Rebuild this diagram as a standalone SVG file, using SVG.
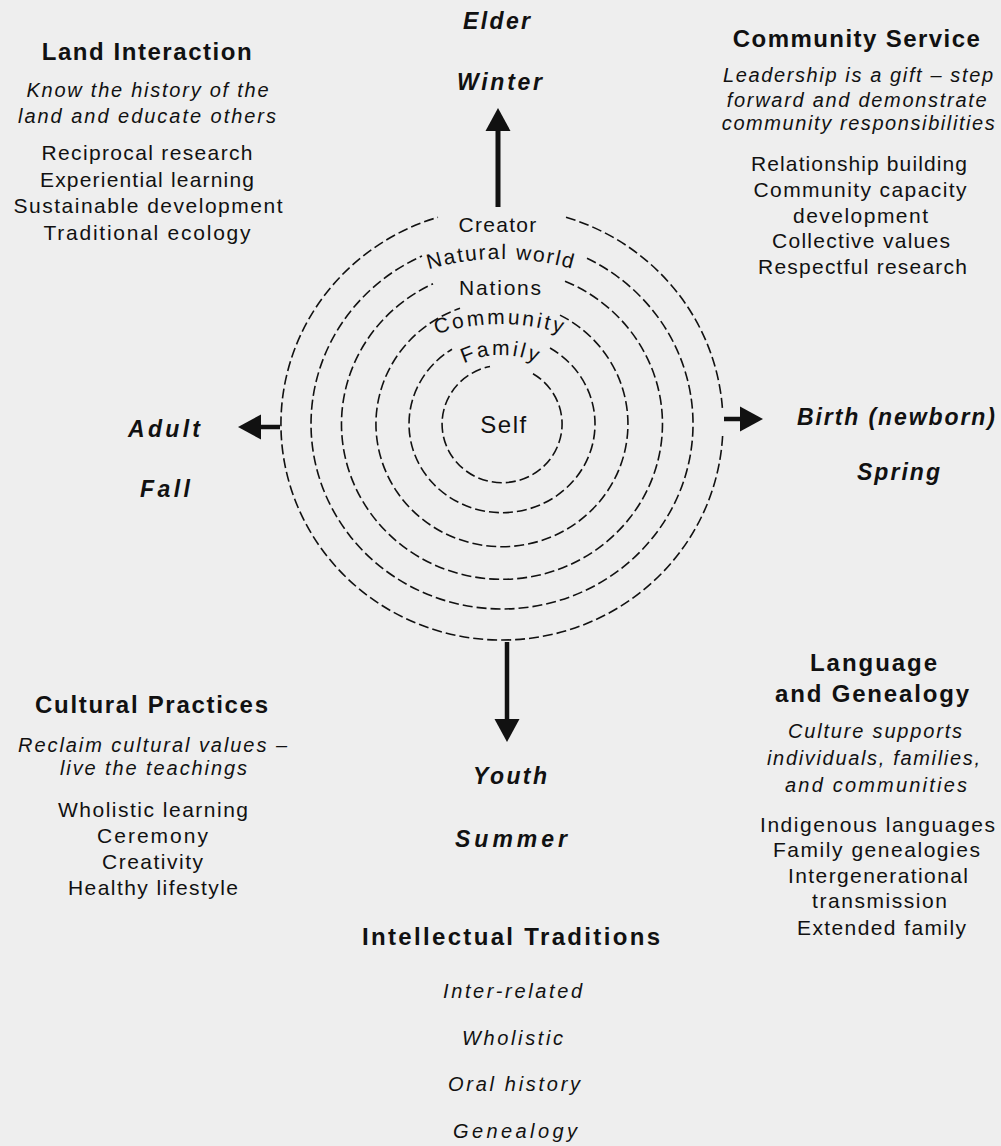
<svg xmlns="http://www.w3.org/2000/svg" width="1001" height="1146" viewBox="0 0 1001 1146">
<style>
text{fill:#111;font-family:"Liberation Sans",Arial,sans-serif;text-anchor:middle}
.t{font-size:24px;font-weight:bold}
.i{font-size:20px;font-style:italic}
.r{font-size:21px}
.s{font-size:23px;font-weight:bold;font-style:italic}
.ring{font-size:21px}
.c{fill:none;stroke:#111;stroke-width:1.6;stroke-dasharray:10 4}
.a{stroke:#111;stroke-width:5;fill:none;marker-end:url(#ah)}
</style>
<defs>
<marker id="ah" viewBox="0 -13 24 26" refX="0" refY="0" markerWidth="24" markerHeight="26" markerUnits="userSpaceOnUse" orient="auto">
<path d="M0,-12.5 L23,0 L0,12.5 Z" fill="#111"/>
</marker>
<path id="p-natural" d="M241,519 A260 260 0 0 1 761,519"/>
<path id="p-community" d="M300,524 A200 200 0 0 1 700,524"/>
<path id="p-family" d="M416,440 A85 85 0 0 1 586,440"/>
</defs>
<rect width="1001" height="1146" fill="#eeeeee"/>

<g id="ring-creator">
<path class="c" d="M566,217.3 A221 216 0 0 1 722.6,411"/>
<path class="c" d="M722.6,436 A221 216 0 1 1 438,217.3"/>
<text class="ring" x="498" y="232" letter-spacing="1.3">Creator</text>
</g>
<g id="ring-natural-world">
<path class="c" d="M587,258.3 A191 185 0 1 1 422,256"/>
<text class="ring" letter-spacing="1.8"><textPath href="#p-natural" startOffset="50%">Natural world</textPath></text>
</g>
<g id="ring-nations">
<path class="c" d="M565,281.2 A160.5 155.3 0 1 1 433,283.8"/>
<text class="ring" x="501" y="295" letter-spacing="1.8">Nations</text>
</g>
<g id="ring-community">
<path class="c" d="M560,315.1 A126 122.7 0 1 1 460,308.3"/>
<text class="ring" letter-spacing="2.6"><textPath href="#p-community" startOffset="50%">Community</textPath></text>
</g>
<g id="ring-family">
<path class="c" d="M550,348 A93 88.7 0 1 1 452,349.2"/>
<text class="ring" letter-spacing="2.5"><textPath href="#p-family" startOffset="50%">Family</textPath></text>
</g>
<g id="ring-self">
<path class="c" d="M533,373.7 A60 58.7 0 1 1 490,366.5"/>
<text x="504" y="433" font-size="24" letter-spacing="1.5">Self</text>
</g>

<g id="connectors">
<line class="a" x1="498" y1="207" x2="498" y2="131"/>
<line class="a" x1="280" y1="427" x2="261" y2="427" style="stroke-width:4.5"/>
<line class="a" x1="724" y1="419" x2="740" y2="419" style="stroke-width:4.5"/>
<line class="a" x1="507" y1="642" x2="507" y2="719" style="stroke-width:4.5"/>
</g>

<g id="elder-winter">
<text class="s" x="496.5" y="29" textLength="67">Elder</text>
<text class="s" x="499.5" y="90" textLength="85">Winter</text>
</g>
<g id="adult-fall">
<text class="s" x="164" y="437" textLength="72">Adult</text>
<text class="s" x="165" y="497" textLength="50">Fall</text>
</g>
<g id="birth-spring">
<text class="s" x="896" y="425" textLength="198">Birth (newborn)</text>
<text class="s" x="898.5" y="480" textLength="83">Spring</text>
</g>
<g id="youth-summer">
<text class="s" x="510" y="784" textLength="74">Youth</text>
<text class="s" x="511" y="847" textLength="112">Summer</text>
</g>

<g id="land-interaction">
<text class="t" x="146.7" y="60" textLength="210">Land Interaction</text>
<text class="i" x="147.5" y="97" textLength="242">Know the history of the</text>
<text class="i" x="147" y="123" textLength="258">land and educate others</text>
<text class="r" x="147" y="160" textLength="211">Reciprocal research</text>
<text class="r" x="147" y="187" textLength="214">Experiential learning</text>
<text class="r" x="148" y="213" textLength="269">Sustainable development</text>
<text class="r" x="147" y="240" textLength="207">Traditional ecology</text>
</g>

<g id="community-service">
<text class="t" x="856.3" y="46.7" textLength="247">Community Service</text>
<text class="i" x="858" y="82" textLength="270">Leadership is a gift – step</text>
<text class="i" x="856.7" y="107" textLength="260">forward and demonstrate</text>
<text class="i" x="858.3" y="130" textLength="273">community responsibilities</text>
<text class="r" x="859" y="171" textLength="216">Relationship building</text>
<text class="r" x="860" y="197" textLength="213">Community capacity</text>
<text class="r" x="860.5" y="223" textLength="135">development</text>
<text class="r" x="861" y="248" textLength="178">Collective values</text>
<text class="r" x="862.5" y="274" textLength="209">Respectful research</text>
</g>

<g id="cultural-practices">
<text class="t" x="151.5" y="712.7" textLength="233">Cultural Practices</text>
<text class="i" x="152.5" y="752" textLength="269">Reclaim cultural values –</text>
<text class="i" x="153.5" y="775" textLength="187">live the teachings</text>
<text class="r" x="153" y="817" textLength="190">Wholistic learning</text>
<text class="r" x="152.5" y="843" textLength="111">Ceremony</text>
<text class="r" x="152.5" y="869" textLength="101">Creativity</text>
<text class="r" x="153" y="895" textLength="170">Healthy lifestyle</text>
</g>

<g id="language-genealogy">
<text class="t" x="873.5" y="670.7" textLength="127">Language</text>
<text class="t" x="872" y="701.7" textLength="194">and Genealogy</text>
<text class="i" x="875" y="738" textLength="174">Culture supports</text>
<text class="i" x="873.5" y="765" textLength="213">individuals, families,</text>
<text class="i" x="876" y="791.7" textLength="182">and communities</text>
<text class="r" x="877.5" y="831.7" textLength="235">Indigenous languages</text>
<text class="r" x="876.5" y="856.7" textLength="207">Family genealogies</text>
<text class="r" x="878" y="882.7" textLength="180">Intergenerational</text>
<text class="r" x="879.5" y="908" textLength="135">transmission</text>
<text class="r" x="881.5" y="935" textLength="169">Extended family</text>
</g>

<g id="intellectual-traditions">
<text class="t" x="511" y="945" textLength="298">Intellectual Traditions</text>
<text class="i" x="512.5" y="998" textLength="139">Inter-related</text>
<text class="i" x="512.5" y="1045" textLength="101">Wholistic</text>
<text class="i" x="514" y="1091" textLength="132">Oral history</text>
<text class="i" x="515" y="1138" textLength="124">Genealogy</text>
</g>
</svg>
